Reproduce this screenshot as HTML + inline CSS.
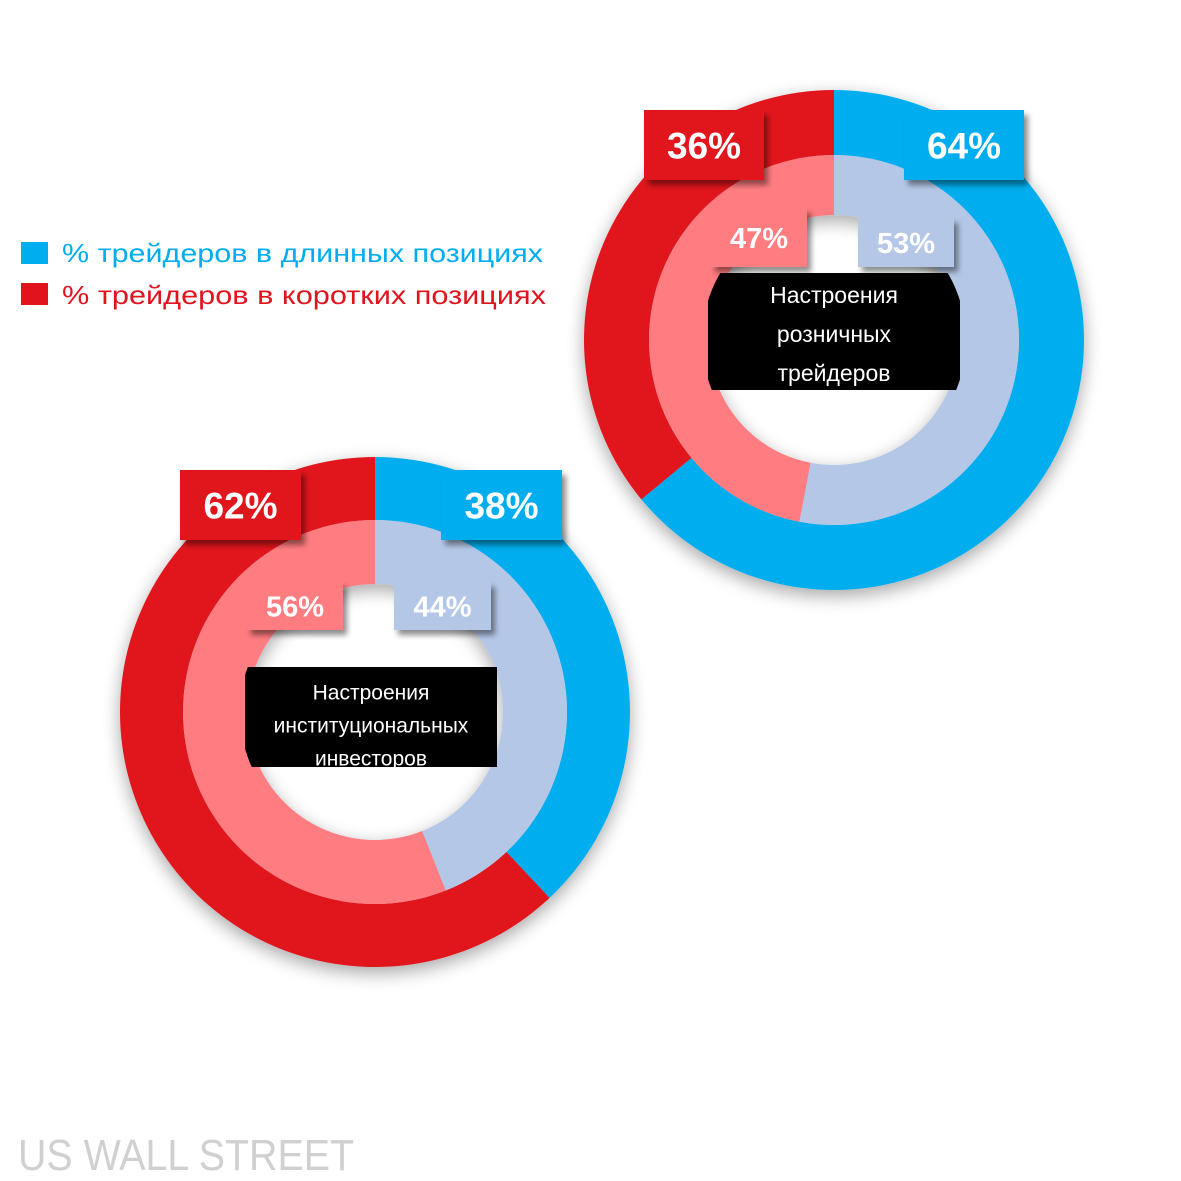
<!DOCTYPE html>
<html><head><meta charset="utf-8"><style>
html,body{margin:0;padding:0;background:#fff;}
svg{display:block;font-family:"Liberation Sans","DejaVu Sans",sans-serif;}
</style></head><body>
<svg id="chart" width="1181" height="1181" viewBox="0 0 1181 1181" xmlns="http://www.w3.org/2000/svg">
<defs>
<filter id="sh" x="-20%" y="-20%" width="140%" height="140%"><feGaussianBlur in="SourceAlpha" stdDeviation="9"/><feOffset dx="0" dy="6"/><feComponentTransfer><feFuncA type="linear" slope="0.35"/></feComponentTransfer><feMerge><feMergeNode/><feMergeNode in="SourceGraphic"/></feMerge></filter>
<filter id="bs" x="-20%" y="-20%" width="150%" height="160%"><feGaussianBlur in="SourceAlpha" stdDeviation="3"/><feOffset dx="4" dy="5"/><feComponentTransfer><feFuncA type="linear" slope="0.45"/></feComponentTransfer><feMerge><feMergeNode/><feMergeNode in="SourceGraphic"/></feMerge></filter>
<clipPath id="holeA"><circle cx="834" cy="340" r="132"/></clipPath>
<clipPath id="holeB"><circle cx="375" cy="712" r="135"/></clipPath>
</defs>
<g>
<rect x="21" y="242" width="27" height="22" fill="#00aeef"/>
<text x="62" y="262" font-size="26" fill="#00aeef" textLength="481" lengthAdjust="spacingAndGlyphs">% трейдеров в длинных позициях</text>
<rect x="21" y="283" width="27" height="22" fill="#e1141e"/>
<text x="62" y="304" font-size="26" fill="#e1141e" textLength="484" lengthAdjust="spacingAndGlyphs">% трейдеров в коротких позициях</text>
</g>
<g id="donuts"></g>
<text x="18" y="1170" font-size="44" fill="#d0d0d0" textLength="336" lengthAdjust="spacingAndGlyphs">US WALL STREET</text>
</svg>
<script>
// data
const donutNames = ["retail", "institutional"];
const outerLong = [64, 38];
const innerLong = [53, 44];
const centerTitles = [["Настроения","розничных","трейдеров"],["Настроения","институциональных","инвесторов"]];
// layout (not data)
const layout = [
 {cx:834, cy:340, ro:250, rm:185, ri:125, clip:"holeA",
  bOL:[644,110,120,70], bOR:[904,110,120,70], bIL:[711,208,96,59], bIR:[858,218,96,49],
  blk:[708,273,252,117], ty:[295,334,373], fs:23},
 {cx:375, cy:712, ro:255, rm:192, ri:128, clip:"holeB",
  bOL:[180,470,121,70], bOR:[441,470,121,70], bIL:[247,582,96,48], bIR:[394,582,97,48],
  blk:[245,667,252,100], ty:[692,725,758], fs:21}
];
const NS="http://www.w3.org/2000/svg";
const g=document.getElementById("donuts");
function mk(t,a,p){const e=document.createElementNS(NS,t);for(const k in a)e.setAttribute(k,a[k]);(p||g).appendChild(e);return e;}
function pt(cx,cy,r,f){const a=f*2*Math.PI;return [cx+r*Math.sin(a),cy-r*Math.cos(a)];}
function arc(cx,cy,r1,r2,f0,f1){
 const l=(f1-f0)>0.5?1:0;
 const a=pt(cx,cy,r2,f0),b=pt(cx,cy,r2,f1),c=pt(cx,cy,r1,f1),d=pt(cx,cy,r1,f0);
 return `M${a[0]},${a[1]}A${r2},${r2} 0 ${l} 1 ${b[0]},${b[1]}L${c[0]},${c[1]}A${r1},${r1} 0 ${l} 0 ${d[0]},${d[1]}Z`;
}
function box(r,fill,txt,fs,name){
 const gg=mk("g",{});
 
 
 mk("rect",{x:r[0],y:r[1],width:r[2],height:r[3],fill:fill,filter:"url(#bs)"},gg);
 const t=mk("text",{x:r[0]+r[2]/2,y:r[1]+r[3]/2+fs*0.36,"font-size":fs,"font-weight":"bold",fill:"#fff","text-anchor":"middle"},gg);
 t.textContent=txt;
}
donutNames.forEach((n,i)=>{
 const L=layout[i];
 const dg=mk("g",{filter:"url(#sh)"});
 
 
 const ol=outerLong[i]/100, il=innerLong[i]/100;
 const p1=mk("path",{d:arc(L.cx,L.cy,L.rm,L.ro,0,ol),fill:"#00aeef"},dg);
 
 
 const p2=mk("path",{d:arc(L.cx,L.cy,L.rm,L.ro,ol,1),fill:"#e1141e"},dg);
 
 
 const p3=mk("path",{d:arc(L.cx,L.cy,L.ri,L.rm,0,il),fill:"#b4c7e7"},dg);
 
 
 const p4=mk("path",{d:arc(L.cx,L.cy,L.ri,L.rm,il,1),fill:"#ff7b80"},dg);
 
 
 const b=mk("rect",{x:L.blk[0],y:L.blk[1],width:L.blk[2],height:L.blk[3],fill:"#000","clip-path":"url("+"#"+L.clip+")"});
 
 
 centerTitles[i].forEach((s,k)=>{
  const t=mk("text",{x:L.blk[0]+L.blk[2]/2,y:L.ty[k]+L.fs*0.35,"font-size":L.fs,fill:"#fff","text-anchor":"middle"});
  
  
  t.textContent=s;
 });
 box(L.bOL,"#e1141e",(100-outerLong[i])+"%",37,n+'-outer-short-label');
 box(L.bOR,"#00aeef",outerLong[i]+"%",37,n+'-outer-long-label');
 box(L.bIL,"#ff7b80",(100-innerLong[i])+"%",29,n+'-inner-short-label');
 box(L.bIR,"#b4c7e7",innerLong[i]+"%",29,n+'-inner-long-label');
});
</script>
</body></html>
